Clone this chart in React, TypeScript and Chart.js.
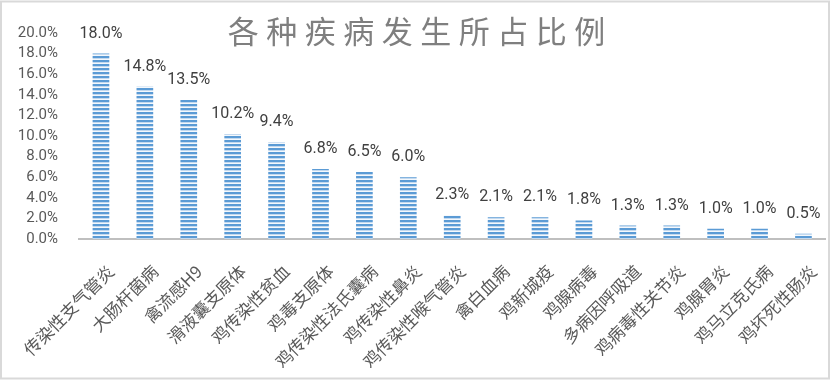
import React, { useEffect, useRef } from "react";
import { Chart, registerables } from "chart.js";

Chart.register(...registerables);

const TITLE = "各种疾病发生所占比例";
const categories = [
  "传染性支气管炎",
  "大肠杆菌病",
  "禽流感H9",
  "滑液囊支原体",
  "鸡传染性贫血",
  "鸡毒支原体",
  "鸡传染性法氏囊病",
  "鸡传染性鼻炎",
  "鸡传染性喉气管炎",
  "禽白血病",
  "鸡新城疫",
  "鸡腺病毒",
  "多病因呼吸道",
  "鸡病毒性关节炎",
  "鸡腺胃炎",
  "鸡马立克氏病",
  "鸡坏死性肠炎",
];
const values = [18.0, 14.8, 13.5, 10.2, 9.4, 6.8, 6.5, 6.0, 2.3, 2.1, 2.1, 1.8, 1.3, 1.3, 1.0, 1.0, 0.5];
const yMin = 0;
const yMax = 20;
const yStep = 2;

function makePattern(): CanvasPattern | string {
  const c = document.createElement("canvas");
  c.width = 4;
  c.height = 4;
  const g = c.getContext("2d");
  if (!g) return "#5b9bd5";
  g.fillStyle = "#5b9bd5";
  g.fillRect(0, 0, 4, 4);
  g.fillStyle = "#c3d9ef";
  g.fillRect(0, 2, 4, 1);
  g.fillStyle = "#f4f8fc";
  g.fillRect(0, 3, 4, 1);
  const p = g.createPattern(c, "repeat");
  return p || "#5b9bd5";
}

const decorPlugin = {
  id: "decor",
  afterDraw(chart: any) {
    const ctx = chart.ctx as CanvasRenderingContext2D;
    const meta = chart.getDatasetMeta(0);
    ctx.save();
    ctx.font = '16px "Roboto", "Liberation Sans", sans-serif';
    ctx.fillStyle = "#404040";
    ctx.textAlign = "center";
    ctx.textBaseline = "alphabetic";
    meta.data.forEach((bar: any, i: number) => {
      ctx.fillText(values[i].toFixed(1) + "%", bar.x, bar.y - 16);
    });
    ctx.restore();

    ctx.save();
    ctx.font = '31px "Noto Sans CJK SC", sans-serif';
    ctx.fillStyle = "#7f7f7f";
    ctx.textBaseline = "middle";
    ctx.textAlign = "left";
    const chars = Array.from(TITLE);
    const pitch = 38.5;
    const total = pitch * (chars.length - 1) + 31;
    const x0 = chart.width / 2 - total / 2 + 0.5;
    chars.forEach((ch, i) => {
      ctx.fillText(ch, x0 + i * pitch, 31);
    });
    ctx.restore();

    ctx.save();
    ctx.strokeStyle = "#d9d9d9";
    ctx.lineWidth = 2;
    ctx.strokeRect(1, 1.5, chart.width - 4, chart.height - 3);
    ctx.restore();
  },
};

export default function App() {
  const ref = useRef<HTMLCanvasElement | null>(null);
  useEffect(() => {
    document.body.style.margin = "0";
    if (!ref.current) return;
    const chart = new Chart(ref.current, {
      type: "bar",
      data: {
        labels: categories,
        datasets: [
          {
            data: values,
            backgroundColor: makePattern() as any,
            borderWidth: 0,
            barPercentage: 0.38,
            categoryPercentage: 1,
          },
        ],
      },
      options: {
        responsive: false,
        animation: false,
        layout: { padding: { top: 33, right: 4, left: 0, bottom: 0 } },
        plugins: {
          legend: { display: false },
          title: { display: false },
          tooltip: { enabled: false },
        },
        scales: {
          x: {
            grid: { display: false },
            border: { display: true, color: "#bfbfbf", width: 2 },
            ticks: {
              autoSkip: false,
              minRotation: 45,
              maxRotation: 45,
              labelOffset: 10,
              padding: 14,
              color: "#595959",
              font: { family: '"Noto Sans CJK SC", sans-serif', size: 17 },
            },
            afterFit: (s: any) => {
              s.height = 141;
            },
          },
          y: {
            min: yMin,
            max: yMax,
            grid: { display: false },
            border: { display: false },
            ticks: {
              stepSize: yStep,
              autoSkip: false,
              padding: 13,
              color: "#595959",
              font: { family: '"Roboto", "Liberation Sans", sans-serif', size: 15 },
              callback: (v: any) => Number(v).toFixed(1) + "%",
            },
            afterFit: (s: any) => {
              s.width = 79;
            },
          },
        },
      },
      plugins: [decorPlugin],
    });
    return () => chart.destroy();
  }, []);
  return (
    <div style={{ width: 832, height: 380, background: "#fff" }}>
      <canvas ref={ref} width={832} height={380} style={{ display: "block" }} />
    </div>
  );
}
